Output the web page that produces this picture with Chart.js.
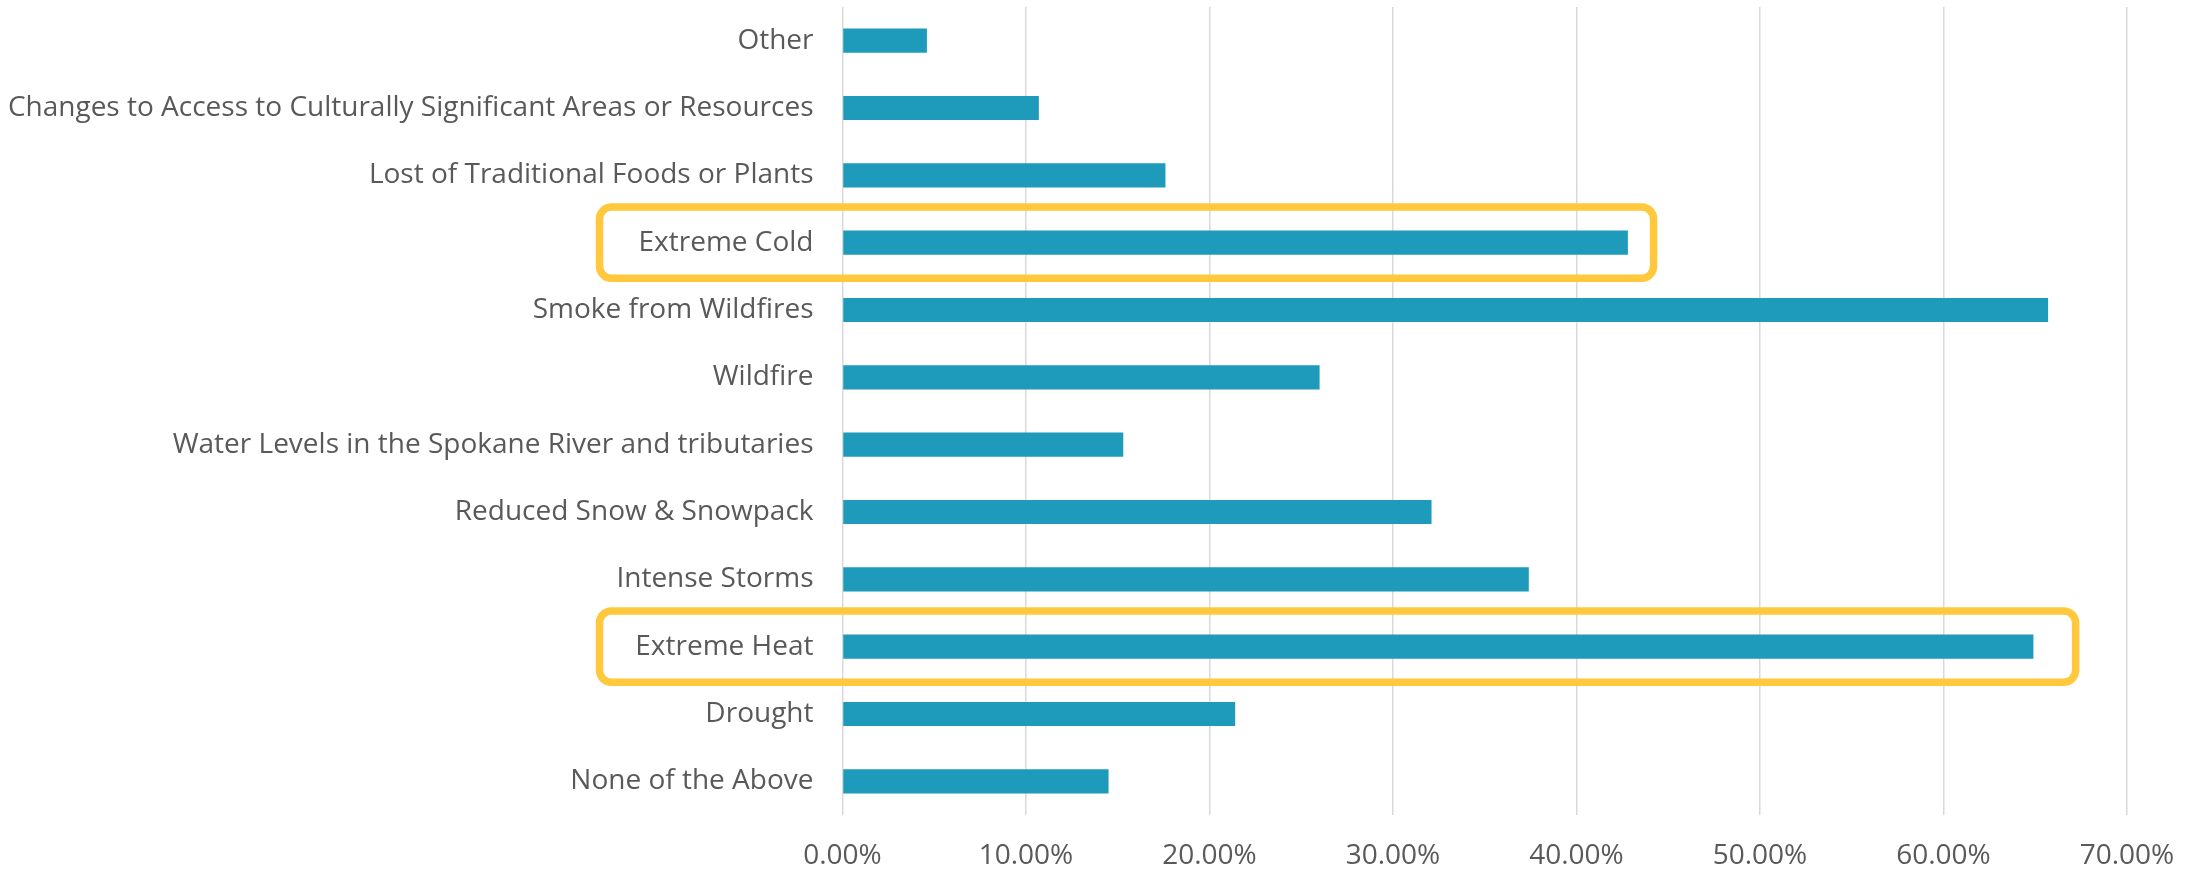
<!DOCTYPE html>
<html>
<head>
<meta charset="utf-8">
<script src="https://cdn.jsdelivr.net/npm/chart.js@4.4.0/dist/chart.umd.min.js"></script>
<style>
    html, body { margin: 0; padding: 0; background: #ffffff; }
    #wrap { width: 2201px; height: 871px; }
</style>
</head>
<body>
<div id="wrap"><canvas id="barChart" width="2201" height="871"></canvas></div>
<script>
let categories = [
    "Other",
    "Changes to Access to Culturally Significant Areas or Resources",
    "Lost of Traditional Foods or Plants",
    "Extreme Cold",
    "Smoke from Wildfires",
    "Wildfire",
    "Water Levels in the Spokane River and tributaries",
    "Reduced Snow & Snowpack",
    "Intense Storms",
    "Extreme Heat",
    "Drought",
    "None of the Above"
];
let shares = [0.046, 0.107, 0.176, 0.428, 0.657, 0.260, 0.153, 0.321, 0.374, 0.649, 0.214, 0.145];
let xTicks = [0, 0.1, 0.2, 0.3, 0.4, 0.5, 0.6, 0.7];
// highlighted rows and how far right (in axis units) the box reaches
let highlightRows = ["Extreme Cold", "Extreme Heat"];
let highlightEnds = [0.442, 0.672];

const fontFamily = "'Open Sans', sans-serif";

// yellow rounded boxes around highlighted rows
const highlightPlugin = {
    id: "highlightBoxes",
    afterDatasetsDraw(chart) {
        let ctx = chart.ctx;
        let x = chart.scales.x;
        let y = chart.scales.y;
        let band = Math.abs(y.getPixelForValue(1) - y.getPixelForValue(0));
        ctx.save();
        ctx.strokeStyle = "#FFC83D";
        ctx.lineWidth = 7.5;
        for (let i = 0; i < highlightRows.length; i++) {
            let idx = categories.indexOf(highlightRows[i]);
            let cy = y.getPixelForValue(idx);
            let left = chart.chartArea.left - 243;
            let right = x.getPixelForValue(highlightEnds[i]);
            let h = band * 1.06;
            ctx.beginPath();
            ctx.roundRect(left, cy - h / 2, right - left, h, 12);
            ctx.stroke();
        }
        ctx.restore();
    }
};

function barChart() {
    new Chart("barChart", {
        type: "bar",
        data: {
            labels: categories,
            datasets: [{
                data: shares,
                backgroundColor: "#1E9ABB",
                borderWidth: 0,
                barPercentage: 0.36,
                categoryPercentage: 1
            }]
        },
        options: {
            indexAxis: "y",
            responsive: false,
            animation: false,
            layout: { padding: { top: 7, right: 74, bottom: 0, left: 0 } },
            plugins: {
                legend: { display: false },
                tooltip: { enabled: false }
            },
            scales: {
                x: {
                    min: 0,
                    max: 0.7,
                    afterBuildTicks: function (scale) {
                        scale.ticks = xTicks.map(v => ({ value: v }));
                    },
                    afterFit: function (scale) {
                        scale.height = 56;
                        scale.paddingLeft = 0;
                        scale.paddingRight = 0;
                        scale.paddingTop = 0;
                        scale.paddingBottom = 0;
                    },
                    grid: { color: "#D9D9D9", lineWidth: 1.5, drawTicks: false },
                    border: { display: false },
                    ticks: {
                        padding: 24,
                        color: "#595959",
                        font: { family: fontFamily, size: 28 },
                        callback: v => (v * 100).toFixed(2) + "%"
                    }
                },
                y: {
                    afterFit: function (scale) {
                        scale.width = 842.5;
                        scale.paddingLeft = 0;
                        scale.paddingRight = 0;
                        scale.paddingTop = 0;
                        scale.paddingBottom = 0;
                    },
                    grid: { display: false, drawTicks: false },
                    border: { display: false },
                    ticks: {
                        padding: 29,
                        color: "#595959",
                        font: { family: fontFamily, size: 28 }
                    }
                }
            }
        },
        plugins: [highlightPlugin]
    });
}

barChart();
</script>
</body>
</html>
